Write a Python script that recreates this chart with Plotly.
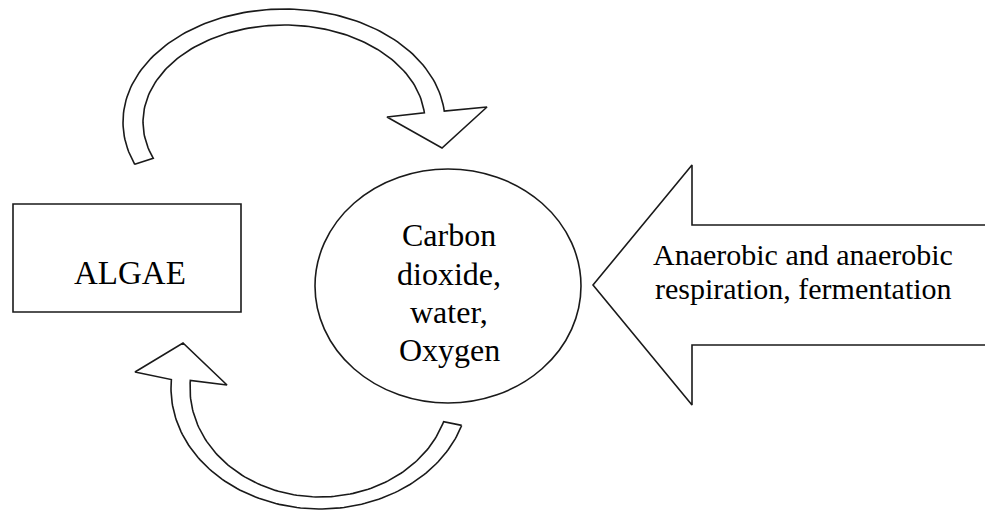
import numpy as np
import plotly.graph_objects as go

W, H = 985, 514
LINE = "#1a1a1a"
FONT = "Liberation Serif, Times New Roman, serif"

# Node labels and positions (pixel space of the diagram)
algae_label = "ALGAE"
algae_box = [13, 204, 241, 312]          # x0, y0, x1, y1
pool_label = ["Carbon", "dioxide,", "water,", "Oxygen"]
pool_center = [448, 286]
pool_radii = [133, 117]
pool_text_y = [235, 274, 312, 350]
process_label = ["Anaerobic and anaerobic", "respiration, fermentation"]
process_text_y = [254, 288]
big_arrow_x = [985, 692, 692, 593, 692, 692, 985]
big_arrow_y = [225, 225, 165, 285, 405, 345, 345]

# Top curved arrow (algae -> pool)
top_center = [284, 122]
top_outer = [161, 113]
top_inner = [141, 97]
top_angles = [202, 5.5]                  # degrees, tail -> head
top_head_x = [487, 442, 387]
top_head_y = [107, 148, 117]

# Bottom curved arrow (pool -> algae)
bot_center = [320, 388]
bot_outer = [149, 121]
bot_inner = [130, 109]
bot_angles = [18, 184]                   # degrees, tail -> head (y down)
bot_head_x = [135, 183, 227]
bot_head_y = [372, 343, 385]

fig = go.Figure()


def arc(c, r, a0, a1, ydown=False, n=120):
    t = np.radians(np.linspace(a0, a1, n))
    x = c[0] + r[0] * np.cos(t)
    y = c[1] + (r[1] * np.sin(t) if ydown else -r[1] * np.sin(t))
    return list(x), list(y)


def curved_arrow(c, ro, ri, angs, hx, hy, ydown):
    ox, oy = arc(c, ro, angs[0], angs[1], ydown)
    ix, iy = arc(c, ri, angs[1], angs[0], ydown)
    xs = ox + hx + ix + [ox[0]]
    ys = oy + hy + iy + [oy[0]]
    fig.add_trace(go.Scatter(x=xs, y=ys, mode="lines", fill="toself",
                             fillcolor="white",
                             line=dict(color=LINE, width=1.6),
                             hoverinfo="skip", showlegend=False))


curved_arrow(top_center, top_outer, top_inner, top_angles,
             top_head_x, top_head_y, ydown=False)
curved_arrow(bot_center, bot_outer, bot_inner, bot_angles,
             bot_head_x, bot_head_y, ydown=True)

# Big process arrow
fig.add_trace(go.Scatter(x=big_arrow_x, y=big_arrow_y, mode="lines",
                         line=dict(color=LINE, width=1.6),
                         hoverinfo="skip", showlegend=False))

# Algae box
fig.add_shape(type="rect", x0=algae_box[0], y0=algae_box[1],
              x1=algae_box[2], y1=algae_box[3],
              line=dict(color=LINE, width=1.6), fillcolor="white")
# Pool circle
fig.add_shape(type="circle",
              x0=pool_center[0] - pool_radii[0], x1=pool_center[0] + pool_radii[0],
              y0=pool_center[1] - pool_radii[1], y1=pool_center[1] + pool_radii[1],
              line=dict(color=LINE, width=1.6), fillcolor="white")

fig.add_annotation(x=(algae_box[0] + algae_box[2]) / 2 + 3, y=273, text=algae_label,
                   showarrow=False, font=dict(family=FONT, size=33, color="black"))

for txt, yy in zip(pool_label, pool_text_y):
    fig.add_annotation(x=pool_center[0] + 1, y=yy, text=txt, showarrow=False,
                       font=dict(family=FONT, size=32, color="black"))

for txt, yy in zip(process_label, process_text_y):
    fig.add_annotation(x=803, y=yy, text=txt, showarrow=False,
                       font=dict(family=FONT, size=30, color="black"))

fig.update_layout(width=W, height=H, autosize=False,
                  margin=dict(l=0, r=0, t=0, b=0),
                  paper_bgcolor="white", plot_bgcolor="white",
                  xaxis=dict(range=[0, W], visible=False, fixedrange=True),
                  yaxis=dict(range=[H, 0], visible=False, fixedrange=True))

fig.write_html("out.html", config={"displayModeBar": False},
               post_script="document.body.style.margin='0px';")
